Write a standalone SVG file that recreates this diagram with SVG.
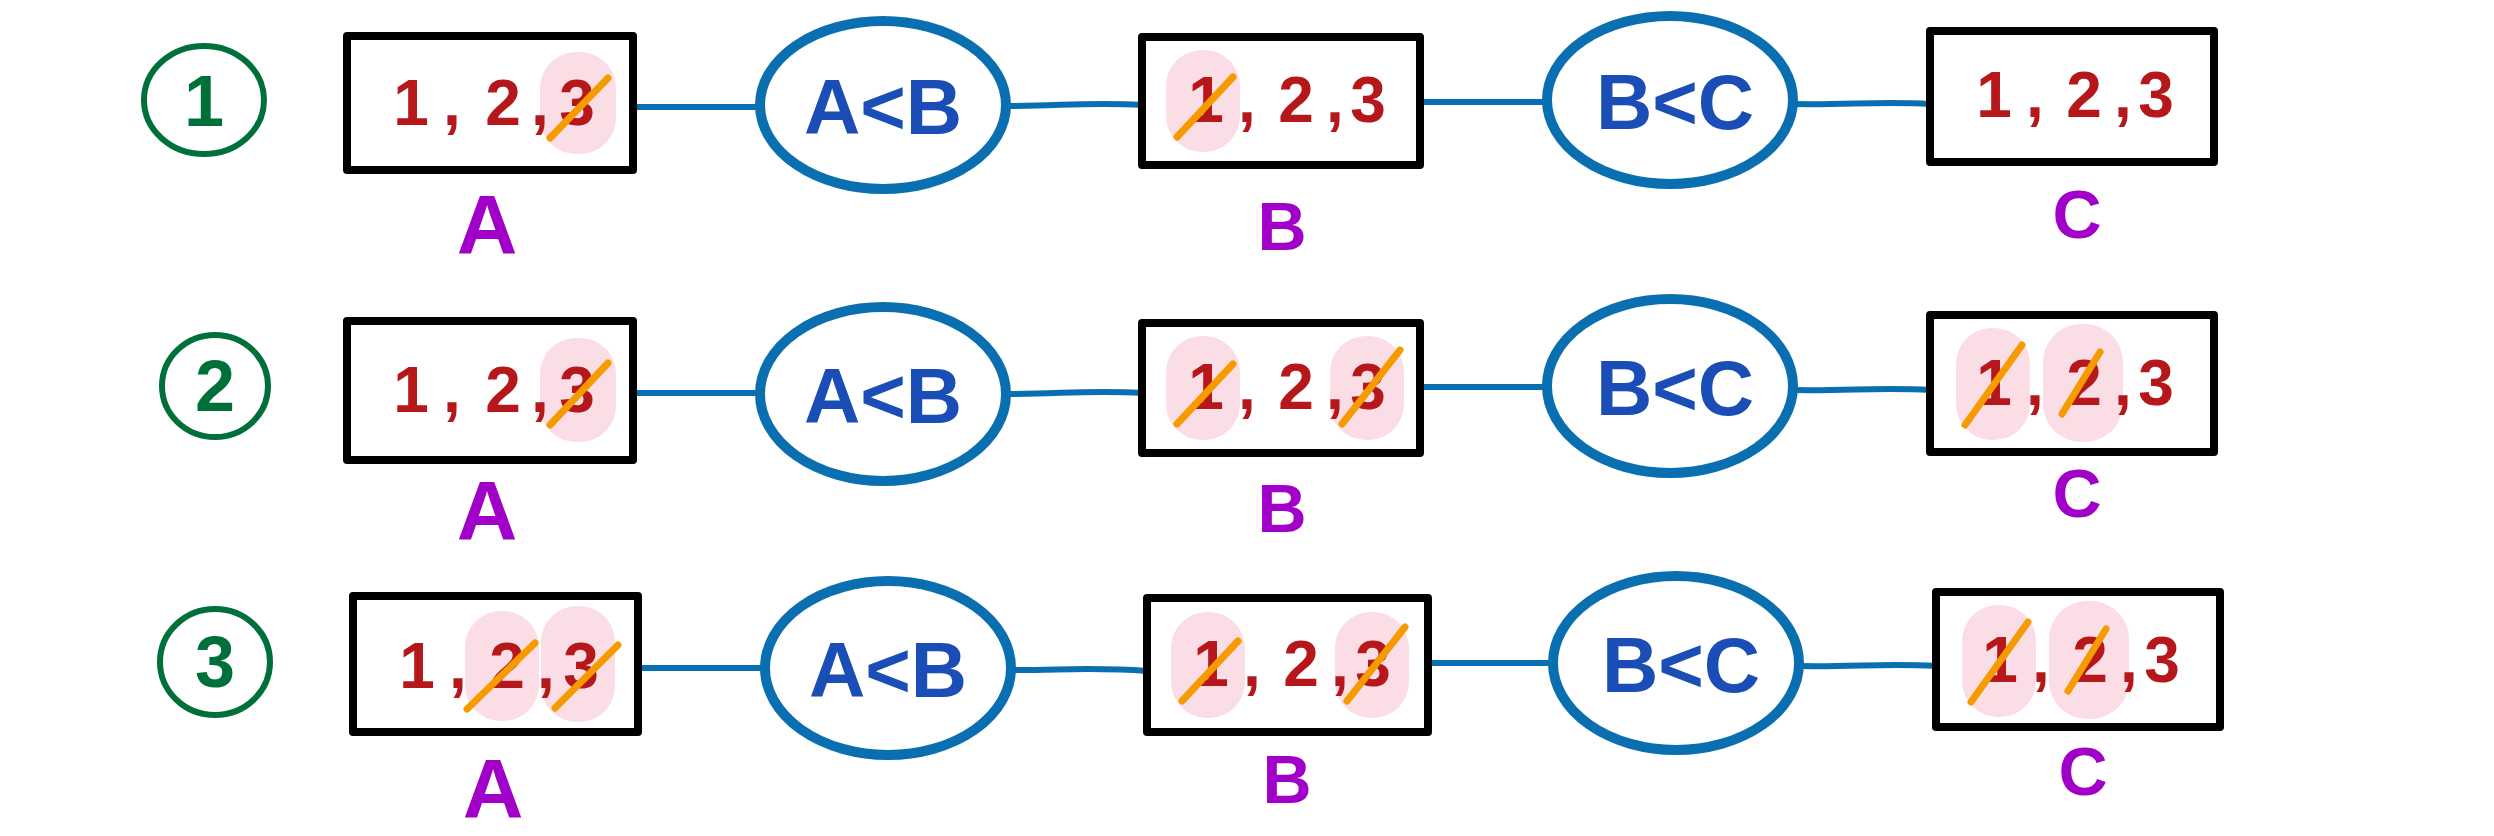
<svg xmlns="http://www.w3.org/2000/svg" width="2494" height="836" viewBox="0 0 2494 836">
<style>
.bg{fill:#ffffff}
.box{fill:#ffffff;stroke:#000000;stroke-width:8;stroke-linejoin:round}
.ell{fill:#ffffff;stroke:#0a6fb0;stroke-width:10}
.num{fill:none;stroke:#00703a;stroke-width:6}
.numt{fill:#00703a;font-family:"Liberation Sans",sans-serif;font-weight:bold;font-size:72px;text-anchor:middle}
.dig{fill:#b5171a;font-family:"Liberation Sans",sans-serif;font-weight:bold;font-size:64px;text-anchor:middle}
.blob{fill:#fbdde6}
.strike{stroke:#f59b00;stroke-width:7;stroke-linecap:round;fill:none}
.cmp{fill:#1a4db5;font-family:"Liberation Sans",sans-serif;font-weight:bold;font-size:78px;text-anchor:middle}
.lbl{fill:#a000c8;font-family:"Liberation Sans",sans-serif;font-weight:bold;font-size:84px;text-anchor:middle}
.lblS{fill:#a000c8;font-family:"Liberation Sans",sans-serif;font-weight:bold;font-size:68px;text-anchor:middle}
.con{stroke:#0a6fb0;stroke-width:6;stroke-linecap:round;fill:none}
</style>
<rect class="bg" x="0" y="0" width="2494" height="836"/>

<g id="connectors">
  <line class="con" x1="633" y1="107" x2="760" y2="107"/>
  <path class="con" d="M1006,106 C1060,106 1090,102 1142,105"/>
  <line class="con" x1="1420" y1="102" x2="1547" y2="102"/>
  <path class="con" d="M1793,104 C1850,105 1880,101 1930,104"/>

  <line class="con" x1="633" y1="393" x2="760" y2="393"/>
  <path class="con" d="M1006,394 C1060,394 1090,390 1142,393"/>
  <line class="con" x1="1420" y1="387" x2="1547" y2="387"/>
  <path class="con" d="M1793,390 C1850,391 1880,387 1930,390"/>

  <line class="con" x1="638" y1="668" x2="765" y2="668"/>
  <path class="con" d="M1011,670 C1065,670 1095,667 1147,671"/>
  <line class="con" x1="1428" y1="663" x2="1553" y2="663"/>
  <path class="con" d="M1799,666 C1856,667 1886,663 1936,666"/>
</g>

<!-- Row 1 -->
<g id="step1">
  <ellipse class="num" cx="204" cy="100" rx="60" ry="54"/>
  <text class="numt" x="204" y="126">1</text>
</g>
<g id="r1-A">
  <rect class="box" x="347" y="36" width="286" height="134"/>
  <rect class="blob" x="540" y="52" width="76" height="102" rx="36"/>
  <text class="dig" x="411 452 503 540 577" y="125">1,2,3</text>
  <line class="strike" x1="550" y1="138" x2="608" y2="78"/>
  <text class="lbl" x="487" y="254">A</text>
</g>
<g id="r1-AB">
  <ellipse class="ell" cx="883" cy="105" rx="123" ry="84"/>
  <text class="cmp" x="883" y="134">A&lt;B</text>
</g>
<g id="r1-B">
  <rect class="box" x="1142" y="37" width="278" height="128"/>
  <rect class="blob" x="1166" y="50" width="74" height="102" rx="36"/>
  <text class="dig" x="1206 1247 1296 1335 1368" y="122">1,2,3</text>
  <line class="strike" x1="1177" y1="137" x2="1233" y2="77"/>
  <text class="lblS" x="1282" y="250">B</text>
</g>
<g id="r1-BC">
  <ellipse class="ell" cx="1670" cy="100" rx="123" ry="84"/>
  <text class="cmp" x="1675" y="129">B&lt;C</text>
</g>
<g id="r1-C">
  <rect class="box" x="1930" y="31" width="284" height="131"/>
  <text class="dig" x="1994 2035 2084 2123 2156" y="117">1,2,3</text>
  <text class="lblS" x="2077" y="238">C</text>
</g>

<!-- Row 2 -->
<g id="step2">
  <ellipse class="num" cx="215" cy="386" rx="53" ry="51"/>
  <text class="numt" x="215" y="411">2</text>
</g>
<g id="r2-A">
  <rect class="box" x="347" y="321" width="286" height="139"/>
  <rect class="blob" x="540" y="338" width="76" height="104" rx="36"/>
  <text class="dig" x="411 452 503 540 577" y="412">1,2,3</text>
  <line class="strike" x1="550" y1="425" x2="608" y2="363"/>
  <text class="lbl" x="487" y="540">A</text>
</g>
<g id="r2-AB">
  <ellipse class="ell" cx="883" cy="394" rx="123" ry="87"/>
  <text class="cmp" x="883" y="423">A&lt;B</text>
</g>
<g id="r2-B">
  <rect class="box" x="1142" y="323" width="278" height="130"/>
  <rect class="blob" x="1166" y="336" width="74" height="104" rx="36"/>
  <rect class="blob" x="1330" y="336" width="74" height="104" rx="36"/>
  <text class="dig" x="1206 1247 1296 1335 1368" y="409">1,2,3</text>
  <line class="strike" x1="1177" y1="424" x2="1233" y2="364"/>
  <line class="strike" x1="1342" y1="424" x2="1400" y2="350"/>
  <text class="lblS" x="1282" y="532">B</text>
</g>
<g id="r2-BC">
  <ellipse class="ell" cx="1670" cy="386" rx="123" ry="87"/>
  <text class="cmp" x="1675" y="415">B&lt;C</text>
</g>
<g id="r2-C">
  <rect class="box" x="1930" y="315" width="284" height="137"/>
  <rect class="blob" x="1956" y="328" width="74" height="112" rx="36"/>
  <rect class="blob" x="2043" y="324" width="80" height="118" rx="38"/>
  <text class="dig" x="1994 2035 2084 2123 2156" y="405">1,2,3</text>
  <line class="strike" x1="1965" y1="425" x2="2022" y2="345"/>
  <line class="strike" x1="2062" y1="414" x2="2100" y2="352"/>
  <text class="lblS" x="2077" y="517">C</text>
</g>

<!-- Row 3 -->
<g id="step3">
  <ellipse class="num" cx="215" cy="662" rx="55" ry="53"/>
  <text class="numt" x="215" y="687">3</text>
</g>
<g id="r3-A">
  <rect class="box" x="353" y="596" width="285" height="136"/>
  <rect class="blob" x="465" y="611" width="74" height="110" rx="36"/>
  <rect class="blob" x="541" y="606" width="74" height="116" rx="36"/>
  <text class="dig" x="417 458 507 546 581" y="688">1,2,3</text>
  <line class="strike" x1="467" y1="709" x2="535" y2="643"/>
  <line class="strike" x1="555" y1="708" x2="618" y2="645"/>
  <text class="lbl" x="493" y="818">A</text>
</g>
<g id="r3-AB">
  <ellipse class="ell" cx="888" cy="668" rx="123" ry="87"/>
  <text class="cmp" x="888" y="697">A&lt;B</text>
</g>
<g id="r3-B">
  <rect class="box" x="1147" y="598" width="281" height="134"/>
  <rect class="blob" x="1171" y="612" width="74" height="106" rx="36"/>
  <rect class="blob" x="1335" y="612" width="74" height="106" rx="36"/>
  <text class="dig" x="1211 1252 1301 1340 1373" y="686">1,2,3</text>
  <line class="strike" x1="1182" y1="701" x2="1238" y2="641"/>
  <line class="strike" x1="1347" y1="701" x2="1405" y2="627"/>
  <text class="lblS" x="1287" y="803">B</text>
</g>
<g id="r3-BC">
  <ellipse class="ell" cx="1676" cy="663" rx="123" ry="87"/>
  <text class="cmp" x="1681" y="692">B&lt;C</text>
</g>
<g id="r3-C">
  <rect class="box" x="1936" y="592" width="284" height="135"/>
  <rect class="blob" x="1962" y="605" width="74" height="112" rx="36"/>
  <rect class="blob" x="2049" y="601" width="80" height="118" rx="38"/>
  <text class="dig" x="2000 2041 2090 2129 2162" y="682">1,2,3</text>
  <line class="strike" x1="1971" y1="702" x2="2028" y2="622"/>
  <line class="strike" x1="2068" y1="691" x2="2106" y2="629"/>
  <text class="lblS" x="2083" y="795">C</text>
</g>
</svg>
